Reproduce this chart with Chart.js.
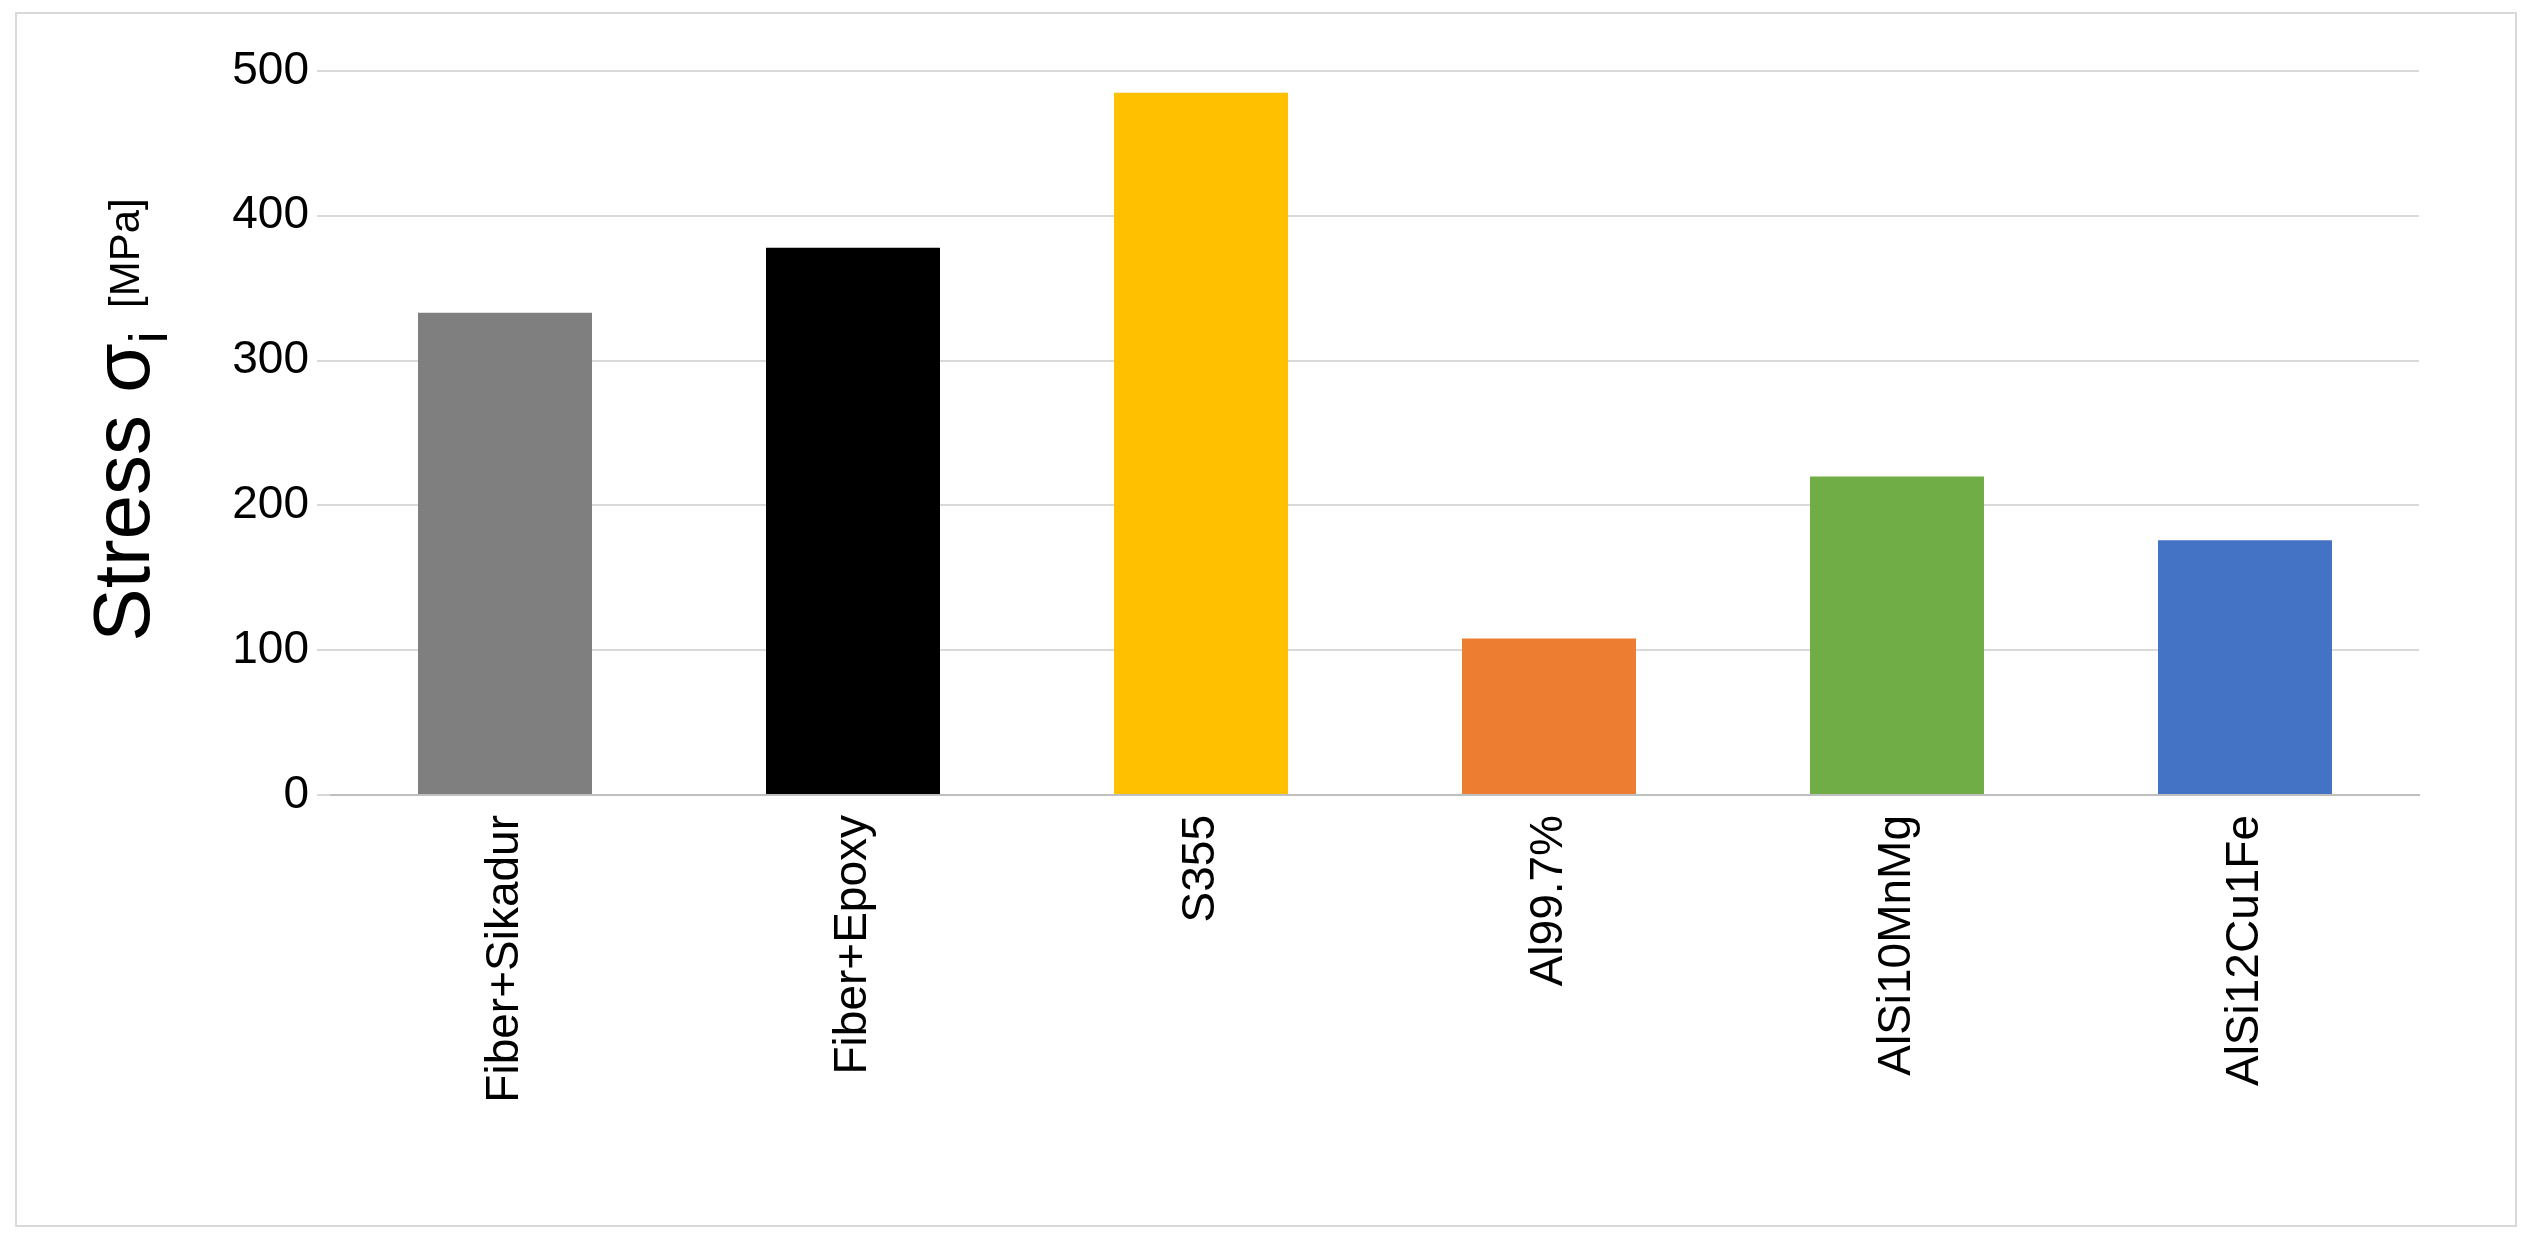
<!DOCTYPE html>
<html>
<head>
<meta charset="utf-8">
<script src="https://cdn.jsdelivr.net/npm/chart.js@4"></script>
<style>
  html, body { margin: 0; padding: 0; background: #fff; }
  #wrap { width: 2529px; height: 1238px; }
</style>
</head>
<body>
<div id="wrap"><canvas id="chart" width="2529" height="1238"></canvas></div>
<script>
const materials = ["Fiber+Sikadur", "Fiber+Epoxy", "S355", "Al99.7%", "AlSi10MnMg", "AlSi12Cu1Fe"];
const stress = [333, 378, 485, 108, 220, 176];
const barColors = ["#7f7f7f", "#000000", "#ffc000", "#ed7d31", "#70ad47", "#4472c4"];

const frameAndTitle = {
  id: "frameAndTitle",
  afterDraw(chart) {
    const ctx = chart.ctx;
    ctx.save();
    ctx.strokeStyle = "#d9d9d9";
    ctx.lineWidth = 2;
    ctx.strokeRect(16, 13, 2500, 1213);
    ctx.translate(121, 420);
    ctx.rotate(-Math.PI / 2);
    ctx.fillStyle = "#000";
    ctx.textBaseline = "alphabetic";
    const parts = [
      { t: "Stress \u03c3", f: "80px Arial, 'Liberation Sans'", dy: 0 },
      { t: "i", f: "54px Arial, 'Liberation Sans'", dy: 18 },
      { t: "  [MPa]", f: "42px Arial, 'Liberation Sans'", dy: -10 },
    ];
    let w = 0;
    parts.forEach((p) => { ctx.font = p.f; w += ctx.measureText(p.t).width; })
    let x = -w / 2;
    parts.forEach((p) => {
      ctx.font = p.f;
      ctx.fillText(p.t, x, 28 + p.dy);
      x += ctx.measureText(p.t).width;
    });
    ctx.restore();
  },
};

new Chart(document.getElementById("chart"), {
  type: "bar",
  data: {
    labels: materials,
    datasets: [{ data: stress, backgroundColor: barColors, barPercentage: 0.5, categoryPercentage: 1 }],
  },
  options: {
    responsive: false,
    devicePixelRatio: 1,
    animation: false,
    layout: { padding: { top: 71, right: 110, left: 0, bottom: 0 } },
    plugins: { legend: { display: false }, tooltip: { enabled: false } },
    scales: {
      x: {
        grid: { display: false },
        border: { color: "#bfbfbf", width: 2 },
        ticks: {
          color: "#000",
          font: { family: "Arial, 'Liberation Sans'", size: 46 },
          minRotation: 90,
          maxRotation: 90,
          padding: 12,
        },
        afterFit(scale) { scale.height = 443; },
      },
      y: {
        min: 0,
        max: 500,
        ticks: {
          stepSize: 100,
          color: "#000",
          font: { family: "Arial, 'Liberation Sans'", size: 46 },
          padding: 8,
        },
        grid: { color: "#d9d9d9", lineWidth: 2, tickLength: 14, tickColor: "#d9d9d9" },
        border: { display: false },
        afterFit(scale) { scale.width = 331; },
      },
    },
  },
  plugins: [frameAndTitle],
});
</script>
</body>
</html>
